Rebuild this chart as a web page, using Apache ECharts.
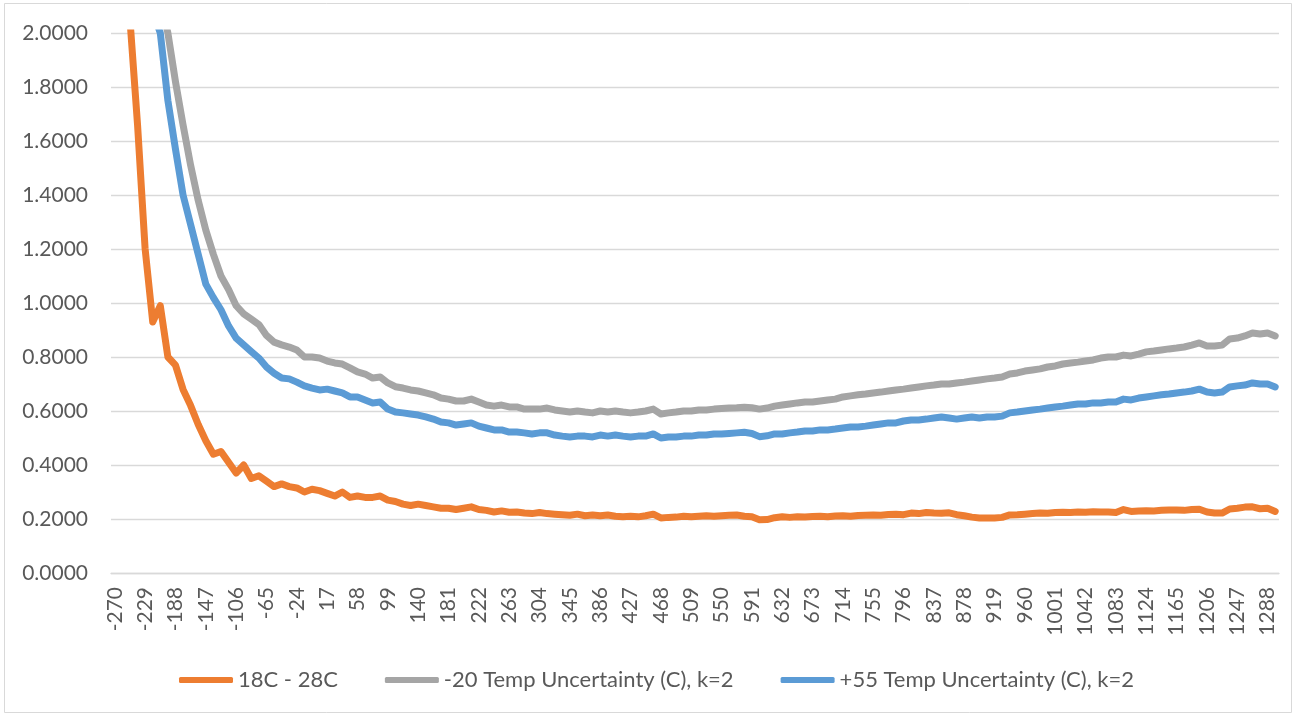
<!DOCTYPE html>
<html>
<head>
<meta charset="utf-8">
<script src="https://cdn.jsdelivr.net/npm/echarts@6/dist/echarts.min.js"></script>
<style>
  html, body { margin: 0; padding: 0; background: #fff; }
  #main { width: 1296px; height: 715px; }
</style>
</head>
<body>
<div id="main"></div>
<script>
// tick labels shown on the x axis (every 4th category)
var tickLabels = [-270, -229, -188, -147, -106, -65, -24, 17, 58, 99, 140, 181, 222, 263, 304, 345, 386, 427, 468,
    509, 550, 591, 632, 673, 714, 755, 796, 837, 878, 919, 960, 1001, 1042, 1083, 1124, 1165, 1206, 1247, 1288];
var subStep = 10.25;

// 18C - 28C
var orange = [
    2.8, 2.4, 2.05, 1.66, 1.2, 0.93, 0.99, 0.8, 0.77, 0.68,
    0.62, 0.55, 0.49, 0.44, 0.45, 0.41, 0.37, 0.40, 0.35, 0.36,
    0.34, 0.32, 0.33, 0.32, 0.315, 0.30, 0.31, 0.305, 0.295, 0.285,
    0.30, 0.28, 0.285, 0.28, 0.28, 0.285, 0.27, 0.265, 0.255, 0.25,
    0.255, 0.25, 0.245, 0.24, 0.24, 0.235, 0.24, 0.245, 0.235, 0.232,
    0.226, 0.23, 0.225, 0.226, 0.222, 0.22, 0.224, 0.22, 0.218, 0.216,
    0.214, 0.218, 0.212, 0.215, 0.212, 0.215, 0.21, 0.208, 0.21, 0.208,
    0.212, 0.218, 0.204, 0.206, 0.207, 0.21, 0.208, 0.21, 0.212, 0.21,
    0.212, 0.214, 0.215, 0.21, 0.208, 0.197, 0.198, 0.205, 0.208, 0.206,
    0.208, 0.207, 0.209, 0.21, 0.208, 0.211, 0.212, 0.21, 0.213, 0.214,
    0.215, 0.214, 0.217, 0.218, 0.216, 0.222, 0.22, 0.224, 0.222, 0.221,
    0.223, 0.216, 0.212, 0.207, 0.204, 0.204, 0.204, 0.206, 0.215, 0.216,
    0.218, 0.22, 0.222, 0.221, 0.224, 0.225, 0.224, 0.226, 0.225, 0.227,
    0.226, 0.226, 0.224, 0.235, 0.228, 0.23, 0.231, 0.23, 0.232, 0.233,
    0.233, 0.232, 0.235, 0.236, 0.226, 0.222, 0.222, 0.237, 0.24, 0.244,
    0.245, 0.238, 0.24, 0.228
];

// -20 Temp Uncertainty (C), k=2
var gray = [
    4.0, 3.5, 3.0, 2.7, 2.45, 2.25, 2.12, 2.0, 1.82, 1.66,
    1.51, 1.38, 1.27, 1.18, 1.10, 1.05, 0.99, 0.96, 0.94, 0.92,
    0.88, 0.855, 0.845, 0.837, 0.826, 0.80, 0.80, 0.796, 0.785, 0.778,
    0.774, 0.76, 0.745, 0.737, 0.722, 0.726, 0.704, 0.69, 0.685, 0.678,
    0.674, 0.667, 0.66, 0.648, 0.644, 0.637, 0.637, 0.644, 0.633, 0.622,
    0.618, 0.622, 0.615, 0.615, 0.607, 0.607, 0.607, 0.611, 0.604, 0.60,
    0.596, 0.60, 0.596, 0.593, 0.60, 0.596, 0.60, 0.596, 0.593, 0.596,
    0.60, 0.607, 0.589, 0.593, 0.596, 0.60, 0.60, 0.604, 0.604, 0.607,
    0.609, 0.611, 0.612, 0.614, 0.612, 0.607, 0.611, 0.618, 0.622, 0.626,
    0.63, 0.633, 0.633, 0.637, 0.641, 0.644, 0.652, 0.656, 0.66, 0.663,
    0.667, 0.67, 0.674, 0.678, 0.681, 0.685, 0.689, 0.693, 0.696, 0.70,
    0.70, 0.704, 0.707, 0.711, 0.715, 0.719, 0.722, 0.726, 0.737, 0.741,
    0.748, 0.752, 0.756, 0.763, 0.767, 0.774, 0.778, 0.781, 0.785, 0.789,
    0.796, 0.80, 0.80, 0.807, 0.804, 0.811, 0.819, 0.822, 0.826, 0.83,
    0.833, 0.837, 0.844, 0.852, 0.841, 0.841, 0.844, 0.867, 0.87, 0.878,
    0.889, 0.885, 0.889, 0.878
];

// +55 Temp Uncertainty (C), k=2
var blue = [
    3.6, 3.1, 2.7, 2.4, 2.2, 2.08, 2.0, 1.75, 1.57, 1.40,
    1.29, 1.18, 1.07, 1.02, 0.975, 0.915, 0.87, 0.845, 0.82, 0.796,
    0.763, 0.74, 0.722, 0.719, 0.707, 0.693, 0.685, 0.678, 0.681, 0.674,
    0.667, 0.652, 0.652, 0.641, 0.63, 0.633, 0.607, 0.596, 0.593, 0.589,
    0.585, 0.578, 0.57, 0.559, 0.556, 0.548, 0.552, 0.556, 0.544, 0.537,
    0.53, 0.53, 0.522, 0.522, 0.519, 0.515, 0.519, 0.519, 0.511, 0.507,
    0.504, 0.507, 0.507, 0.504, 0.511, 0.507, 0.511, 0.507, 0.504, 0.507,
    0.507, 0.515, 0.50, 0.504, 0.504, 0.507, 0.507, 0.511, 0.511, 0.515,
    0.515, 0.517, 0.519, 0.521, 0.517, 0.505, 0.508, 0.515, 0.515, 0.519,
    0.522, 0.526, 0.526, 0.53, 0.53, 0.533, 0.537, 0.541, 0.541, 0.544,
    0.548, 0.552, 0.556, 0.556, 0.563, 0.567, 0.567, 0.57, 0.574, 0.578,
    0.574, 0.57, 0.574, 0.578, 0.574, 0.578, 0.578, 0.581, 0.593, 0.596,
    0.60, 0.604, 0.607, 0.611, 0.615, 0.618, 0.622, 0.626, 0.626, 0.63,
    0.63, 0.633, 0.633, 0.644, 0.641, 0.648, 0.652, 0.656, 0.66, 0.663,
    0.667, 0.67, 0.674, 0.681, 0.67, 0.667, 0.67, 0.689, 0.693, 0.696,
    0.704, 0.70, 0.70, 0.689
];

var seriesNames = ['18C - 28C', '-20 Temp Uncertainty (C), k=2', '+55 Temp Uncertainty (C), k=2'];
var seriesColors = ['#ED7D31', '#A5A5A5', '#5B9BD5'];

// categories: each tick label and the 3 sub steps after it
var categories = [];
for (var t of tickLabels) {
    for (var j = 0; j < 4 && categories.length < orange.length; j++) {
        categories.push(String(t + j * subStep));
    }
}

var chart = echarts.init(document.getElementById('main'));
var textColor = '#595959';
var font = 'Lato, "Liberation Sans", sans-serif';

var option = {
    backgroundColor: '#ffffff',
    animation: false,
    graphic: [{
        type: 'rect',
        silent: true,
        shape: { x: 4.5, y: 3.5, width: 1287, height: 709 },
        style: { fill: 'none', stroke: '#d9d9d9', lineWidth: 1 }
    }],
    grid: {
        left: 111,
        right: 17,
        top: 33,
        bottom: 142
    },
    legend: {
        data: seriesNames,
        left: 174,
        top: 664,
        icon: 'roundRect',
        itemWidth: 54,
        itemHeight: 6,
        itemGap: 47,
        textStyle: { color: textColor, fontSize: 22, fontFamily: font }
    },
    xAxis: {
        type: 'category',
        boundaryGap: true,
        data: categories,
        axisTick: { show: false },
        axisLine: { lineStyle: { color: '#d9d9d9', width: 1.3 } },
        axisLabel: {
            rotate: 90,
            margin: 14,
            color: textColor,
            fontSize: 21,
            fontFamily: font,
            interval: function (index) {
                return index % 4 === 0;
            }
        },
        splitLine: { show: false }
    },
    yAxis: {
        type: 'value',
        min: 0,
        max: 2,
        interval: 0.2,
        axisLine: { show: false },
        axisTick: { show: false },
        axisLabel: {
            margin: 23,
            color: textColor,
            fontSize: 21,
            fontFamily: font,
            formatter: function (v) { return v.toFixed(4); }
        },
        splitLine: { lineStyle: { color: '#d9d9d9', width: 1.3 } }
    },
    series: [orange, gray, blue].map(function (vals, k) {
        return {
            name: seriesNames[k],
            type: 'line',
            data: vals,
            color: seriesColors[k],
            showSymbol: false,
            symbol: 'none',
            clip: true,
            lineStyle: { width: 7, color: seriesColors[k], cap: 'round', join: 'round' }
        };
    })
};

chart.setOption(option);
</script>
</body>
</html>
